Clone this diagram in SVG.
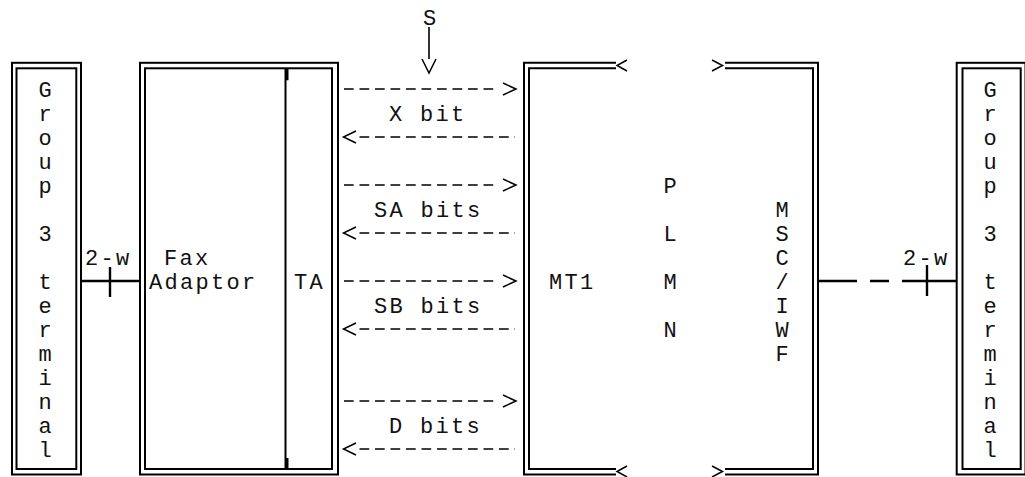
<svg xmlns="http://www.w3.org/2000/svg" width="1025" height="477" viewBox="0 0 1025 477">
  <style>
    .dbl { fill: none; stroke: #000; stroke-width: 2; }
    .thin { fill: none; stroke: #000; stroke-width: 1.6; }
    .t { font-family: "Liberation Mono", "Courier New", monospace; font-size: 22px; fill: #111; letter-spacing: 2.3px; }
    .c { font-family: "Liberation Mono", "Courier New", monospace; font-size: 22px; fill: #111; text-anchor: middle; }
    .dash { fill: none; stroke: #000; stroke-width: 1.6; stroke-dasharray: 9.7 5.8; }
    .chev { fill: none; stroke: #000; stroke-width: 1.5; stroke-linejoin: miter; }
    .wire { fill: none; stroke: #000; stroke-width: 2.4; }
  </style>
  <rect width="1025" height="477" fill="#fff"/>

  <g id="group3-left">
    <rect class="dbl" x="12" y="62.8" width="69" height="411.7"/>
    <rect class="dbl" x="16.5" y="68.3" width="59.8" height="400.7"/>
    <text class="c" x="45" y="97">G</text>
    <text class="c" x="45" y="121">r</text>
    <text class="c" x="45" y="145">o</text>
    <text class="c" x="45" y="169">u</text>
    <text class="c" x="45" y="193">p</text>
    <text class="c" x="45" y="241">3</text>
    <text class="c" x="45" y="289">t</text>
    <text class="c" x="45" y="313">e</text>
    <text class="c" x="45" y="337">r</text>
    <text class="c" x="45" y="361">m</text>
    <text class="c" x="45" y="385">i</text>
    <text class="c" x="45" y="409">n</text>
    <text class="c" x="45" y="433">a</text>
    <text class="c" x="45" y="457">l</text>
  </g>

  <g id="fax-adaptor-ta">
    <rect class="dbl" x="140" y="62.8" width="198" height="411.7"/>
    <rect class="dbl" x="145" y="68.3" width="187" height="400.7"/>
    <line class="dbl" x1="285.5" y1="68.3" x2="285.5" y2="469"/>
    <rect x="285.5" y="68.3" width="3" height="12" fill="#000"/>
    <rect x="285.5" y="458" width="3" height="11" fill="#000"/>
    <text class="t" x="164" y="265">Fax</text>
    <text class="t" x="149" y="289">Adaptor</text>
    <text class="t" x="294" y="289">TA</text>
  </g>

  <g id="mt1-plmn-msc">
    <path class="dbl" d="M616,62.8 H524 V474.5 H616 M725,62.8 H818 V474.5 H725"/>
    <path class="dbl" d="M616,68.3 H529 V469 H616 M725,68.3 H813 V469 H725"/>
    <path class="chev" d="M627,60 L617,65.5 L627,71 M712,60 L722.5,65.5 L712,71"/>
    <path class="chev" d="M627,466 L617,471.5 L627,477 M712,466 L722.5,471.5 L712,477"/>
    <text class="t" x="549" y="289">MT1</text>
    <text class="c" x="670" y="193">P</text>
    <text class="c" x="670" y="241">L</text>
    <text class="c" x="670" y="289">M</text>
    <text class="c" x="670" y="337">N</text>
    <text class="c" x="782" y="217">M</text>
    <text class="c" x="782" y="241">S</text>
    <text class="c" x="782" y="265">C</text>
    <text class="c" x="782" y="289">/</text>
    <text class="c" x="782" y="313">I</text>
    <text class="c" x="782" y="337">W</text>
    <text class="c" x="782" y="361">F</text>
  </g>

  <g id="group3-right">
    <rect class="dbl" x="956.7" y="62.8" width="68.8" height="411.7"/>
    <rect class="dbl" x="962.5" y="68.3" width="58.2" height="400.7"/>
    <text class="c" x="990" y="97">G</text>
    <text class="c" x="990" y="121">r</text>
    <text class="c" x="990" y="145">o</text>
    <text class="c" x="990" y="169">u</text>
    <text class="c" x="990" y="193">p</text>
    <text class="c" x="990" y="241">3</text>
    <text class="c" x="990" y="289">t</text>
    <text class="c" x="990" y="313">e</text>
    <text class="c" x="990" y="337">r</text>
    <text class="c" x="990" y="361">m</text>
    <text class="c" x="990" y="385">i</text>
    <text class="c" x="990" y="409">n</text>
    <text class="c" x="990" y="433">a</text>
    <text class="c" x="990" y="457">l</text>
  </g>

  <g id="connectors">
    <!-- S reference point -->
    <text class="c" x="429.5" y="25">S</text>
    <line class="thin" x1="429" y1="27" x2="429" y2="59"/>
    <path class="chev" d="M422,59 L429,73 L436,59"/>

    <!-- TA <-> MT1 signals -->
    <line class="dash" x1="344" y1="89" x2="496" y2="89"/>
    <path class="chev" d="M503,83 L516,89 L503,95"/>
    <text class="t" x="389" y="121">X bit</text>
    <line class="dash" x1="359.5" y1="137" x2="515" y2="137"/>
    <path class="chev" d="M356,131 L343.5,137 L356,143"/>

    <line class="dash" x1="344" y1="185" x2="496" y2="185"/>
    <path class="chev" d="M503,179 L516,185 L503,191"/>
    <text class="t" x="374" y="217">SA bits</text>
    <line class="dash" x1="359.5" y1="233" x2="515" y2="233"/>
    <path class="chev" d="M356,227 L343.5,233 L356,239"/>

    <line class="dash" x1="344" y1="281" x2="496" y2="281"/>
    <path class="chev" d="M503,275 L516,281 L503,287"/>
    <text class="t" x="374" y="313">SB bits</text>
    <line class="dash" x1="359.5" y1="329" x2="515" y2="329"/>
    <path class="chev" d="M356,323 L343.5,329 L356,335"/>

    <line class="dash" x1="344" y1="401" x2="496" y2="401"/>
    <path class="chev" d="M503,395 L516,401 L503,407"/>
    <text class="t" x="389" y="433">D bits</text>
    <line class="dash" x1="359.5" y1="449" x2="515" y2="449"/>
    <path class="chev" d="M356,443 L343.5,449 L356,455"/>

    <!-- 2-wire left -->
    <line class="wire" x1="82" y1="281" x2="140" y2="281"/>
    <line class="wire" x1="110" y1="267" x2="110" y2="297"/>
    <text class="t" x="85" y="265">2-w</text>

    <!-- 2-wire right -->
    <path class="wire" d="M819,281 H857 M870,281 H889 M902,281 H956"/>
    <line class="wire" x1="927" y1="265" x2="927" y2="296"/>
    <text class="t" x="903" y="265">2-w</text>
  </g>
</svg>
